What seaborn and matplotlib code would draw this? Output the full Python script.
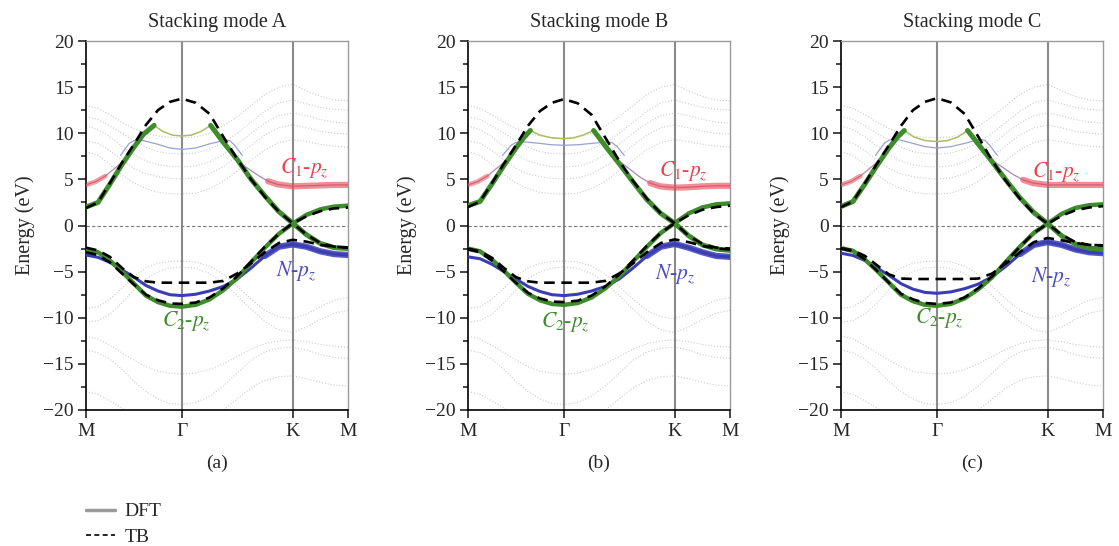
import matplotlib
matplotlib.use("Agg")
import matplotlib.pyplot as plt
from matplotlib.lines import Line2D
from matplotlib.ticker import MultipleLocator
import seaborn as sns

# k-path M -> Gamma -> K -> M (units of |Gamma M|)
k_ticks = [0.0, 1.0, 2.155, 2.732]
k_labels = ["M", "Γ", "K", "M"]
kgrid = [0.0, 0.125, 0.25, 0.375, 0.5, 0.625, 0.75, 0.875, 1.0, 1.144, 1.289,
         1.433, 1.577, 1.722, 1.866, 2.011, 2.155, 2.299, 2.443, 2.588, 2.732]

titles = ["Stacking mode A", "Stacking mode B", "Stacking mode C"]
letters = ["(a)", "(b)", "(c)"]

# ---- conduction band (green, C2-pz) split in three pieces ----
cb_left_k_a = [0.0, 0.125, 0.25, 0.375, 0.5, 0.6, 0.71]
cb_left_a = [2.0, 2.5, 4.5, 6.6, 8.5, 9.9, 10.85]
cb_mid_k_a = [0.71, 0.8, 0.9, 1.0, 1.1, 1.2, 1.3]
cb_mid_a = [10.85, 10.2, 9.8, 9.7, 9.8, 10.2, 10.85]
cb_right_k_a = [1.3, 1.433, 1.577, 1.722, 1.866, 2.011, 2.155, 2.299, 2.443, 2.588, 2.732]
cb_right_a = [10.85, 9.0, 7.15, 5.0, 3.2, 1.5, 0.25, -1.0, -1.95, -2.4, -2.5]

cb_left_k_b = [0.0, 0.125, 0.25, 0.375, 0.5, 0.58, 0.65]
cb_left_b = [2.15, 2.6, 4.5, 6.5, 8.4, 9.5, 10.3]
cb_mid_k_b = [0.65, 0.75, 0.875, 1.0, 1.1, 1.2, 1.31]
cb_mid_b = [10.3, 9.8, 9.5, 9.4, 9.5, 9.8, 10.3]
cb_right_k_b = [1.31, 1.433, 1.577, 1.722, 1.866, 2.011, 2.155, 2.299, 2.443, 2.588, 2.732]
cb_right_b = [10.3, 8.6, 6.7, 4.7, 2.8, 1.3, 0.25, -1.1, -2.1, -2.55, -2.7]

cb_left_k_c = [0.0, 0.125, 0.25, 0.375, 0.5, 0.59, 0.66]
cb_left_c = [2.05, 2.6, 4.5, 6.5, 8.4, 9.6, 10.3]
cb_mid_k_c = [0.66, 0.76, 0.88, 1.0, 1.11, 1.22, 1.32]
cb_mid_c = [10.3, 9.6, 9.2, 9.1, 9.2, 9.6, 10.3]
cb_right_k_c = [1.32, 1.433, 1.577, 1.722, 1.866, 2.011, 2.155, 2.299, 2.443, 2.588, 2.732]
cb_right_c = [10.3, 8.8, 6.9, 4.9, 3.0, 1.4, 0.2, -1.1, -2.0, -2.45, -2.6]

# ---- valence band (green, C2-pz) on kgrid ----
vb_green_a = [-2.6, -2.9, -3.8, -5.0, -6.3, -7.6, -8.3, -8.7, -8.8, -8.6, -8.0,
              -7.0, -5.7, -4.0, -2.4, -0.9, 0.2, 1.15, 1.75, 2.05, 2.15]
vb_green_b = [-2.5, -2.8, -3.7, -4.9, -6.2, -7.4, -8.1, -8.5, -8.6, -8.4, -7.8,
              -6.8, -5.5, -3.9, -2.3, -0.8, 0.25, 1.3, 1.95, 2.3, 2.4]
vb_green_c = [-2.45, -2.75, -3.7, -4.9, -6.2, -7.5, -8.2, -8.6, -8.7, -8.5, -7.9,
              -6.9, -5.6, -3.9, -2.3, -0.8, 0.2, 1.25, 1.9, 2.2, 2.3]

# ---- N-pz band (blue) on kgrid ----
n_blue_a = [-3.2, -3.45, -4.0, -4.8, -5.6, -6.5, -7.1, -7.5, -7.6, -7.45, -7.1,
            -6.6, -5.8, -4.6, -3.3, -2.3, -2.05, -2.3, -2.8, -3.1, -3.2]
n_blue_b = [-3.4, -3.6, -4.2, -5.0, -5.8, -6.6, -7.15, -7.5, -7.6, -7.45, -7.1,
            -6.6, -5.8, -4.6, -3.3, -2.3, -2.0, -2.4, -2.9, -3.3, -3.4]
n_blue_c = [-3.0, -3.25, -3.8, -4.6, -5.4, -6.3, -6.9, -7.25, -7.35, -7.2, -6.85,
            -6.35, -5.55, -4.4, -3.1, -2.1, -1.8, -2.1, -2.6, -2.9, -3.0]

# ---- TB bands (dashed) on kgrid ----
tb1_a = [1.9, 2.5, 4.6, 6.8, 8.8, 10.9, 12.5, 13.4, 13.75, 13.3, 12.1,
         9.6, 7.2, 5.0, 3.1, 1.5, 0.25, -1.0, -1.9, -2.3, -2.4]
tb1_b = [2.0, 2.6, 4.6, 6.7, 8.7, 10.8, 12.4, 13.3, 13.7, 13.25, 12.0,
         9.5, 7.0, 4.8, 2.9, 1.3, 0.25, -1.1, -2.0, -2.4, -2.5]
tb1_c = [2.0, 2.6, 4.6, 6.7, 8.7, 10.8, 12.5, 13.4, 13.8, 13.35, 12.1,
         9.6, 7.0, 4.8, 2.9, 1.3, 0.2, -1.0, -1.8, -2.1, -2.2]
tb2_a = [-2.4, -2.7, -3.4, -4.6, -5.6, -6.05, -6.2, -6.2, -6.2, -6.2, -6.2,
         -6.0, -5.2, -4.1, -2.9, -1.9, -1.55, -1.75, -2.1, -2.3, -2.4]
tb2_b = [-2.5, -2.8, -3.5, -4.6, -5.6, -6.05, -6.2, -6.2, -6.2, -6.2, -6.2,
         -6.0, -5.2, -4.1, -2.9, -1.9, -1.5, -1.8, -2.2, -2.5, -2.6]
tb2_c = [-2.45, -2.7, -3.3, -4.3, -5.3, -5.75, -5.8, -5.8, -5.8, -5.8, -5.8,
         -5.75, -5.2, -4.1, -2.9, -1.8, -1.35, -1.6, -1.9, -2.1, -2.15]
tb4_a = [-2.9, -3.2, -4.0, -5.2, -6.4, -7.5, -8.1, -8.45, -8.5, -8.35, -7.8,
         -6.8, -5.5, -3.9, -2.3, -0.9, 0.25, 1.0, 1.55, 1.85, 1.95]
tb4_b = [-2.6, -2.9, -3.8, -5.0, -6.2, -7.3, -7.9, -8.25, -8.3, -8.15, -7.6,
         -6.6, -5.3, -3.8, -2.2, -0.8, 0.25, 1.1, 1.7, 2.0, 2.15]
tb4_c = [-2.5, -2.8, -3.7, -4.9, -6.2, -7.4, -8.0, -8.4, -8.5, -8.35, -7.8,
         -6.8, -5.5, -3.9, -2.3, -0.8, 0.2, 1.05, 1.65, 1.95, 2.1]

# ---- C1-pz band (red) ----
red_left_k = [0.0, 0.1, 0.2, 0.3, 0.38]
red_left_a = [4.4, 4.75, 5.35, 6.2, 6.9]
red_left_b = [4.4, 4.75, 5.35, 6.2, 6.9]
red_left_c = [4.4, 4.75, 5.35, 6.2, 6.9]
red_right_k = [1.6, 1.7, 1.8, 1.9, 2.0, 2.155, 2.3, 2.45, 2.6, 2.732]
red_right_a = [6.8, 6.1, 5.4, 4.8, 4.45, 4.25, 4.3, 4.35, 4.4, 4.4]
red_right_b = [6.8, 6.0, 5.2, 4.6, 4.25, 4.1, 4.15, 4.25, 4.3, 4.3]
red_right_c = [6.9, 6.2, 5.5, 4.95, 4.6, 4.4, 4.4, 4.4, 4.4, 4.4]

# ---- thin upper band (light blue) ----
thin_k = [0.36, 0.45, 0.5, 0.6, 0.75, 0.875, 1.0, 1.144, 1.289, 1.433, 1.5, 1.55, 1.63]
thin_a = [7.6, 8.9, 9.2, 9.2, 8.8, 8.4, 8.25, 8.4, 8.85, 9.2, 9.2, 8.7, 7.6]
thin_b = [7.6, 8.7, 9.0, 9.05, 8.9, 8.75, 8.7, 8.75, 8.9, 9.05, 9.0, 8.6, 7.6]
thin_c = [7.6, 8.9, 9.25, 9.3, 8.9, 8.55, 8.4, 8.55, 8.9, 9.3, 9.25, 8.7, 7.6]

# ---- faint background DFT bands on kgrid ----
bg1 = [13.0, 12.7, 12.0, 11.2, 10.5, 10.0, 9.7, 9.55, 9.5, 9.6, 10.0, 10.8, 11.8, 13.0, 14.2, 15.0, 15.3, 14.6, 14.0, 13.6, 13.5]
bg2 = [11.8, 11.5, 10.8, 10.0, 9.2, 8.5, 8.0, 7.8, 7.75, 7.85, 8.3, 9.0, 10.0, 11.2, 12.4, 13.3, 13.6, 13.2, 12.8, 12.6, 12.5]
bg3 = [10.8, 10.4, 9.6, 8.6, 7.7, 7.0, 6.6, 6.4, 6.35, 6.45, 6.9, 7.7, 8.8, 10.0, 11.1, 11.9, 12.2, 11.9, 11.5, 11.2, 11.1]
bg4 = [9.2, 8.9, 8.1, 7.1, 6.2, 5.6, 5.3, 5.1, 5.05, 5.15, 5.6, 6.4, 7.5, 8.7, 9.8, 10.6, 10.9, 10.6, 10.2, 10.0, 9.9]
bg5 = [8.0, 7.6, 6.6, 5.5, 4.6, 4.0, 3.6, 3.45, 3.4, 3.5, 4.0, 4.8, 5.9, 7.1, 8.2, 9.0, 9.3, 9.1, 8.8, 8.6, 8.5]
bg6 = [-9.0, -8.8, -8.0, -6.8, -5.5, -4.6, -4.1, -3.9, -3.85, -3.95, -4.4, -5.3, -6.6, -8.0, -9.2, -9.9, -10.1, -9.6, -8.8, -8.1, -7.8]
bg7 = [-10.5, -10.3, -9.6, -8.4, -7.0, -5.8, -5.0, -4.6, -4.5, -4.65, -5.2, -6.2, -7.6, -9.1, -10.4, -11.3, -11.6, -11.0, -10.2, -9.5, -9.2]
bg8 = [-12.0, -12.3, -13.0, -13.8, -14.6, -15.3, -15.8, -16.0, -16.1, -16.0, -15.6, -15.0, -14.2, -13.4, -12.8, -12.5, -12.4, -12.6, -12.9, -13.1, -13.2]
bg9 = [-18.0, -18.3, -19.0, -19.8, -20.6, -21.2, -21.6, -21.8, -21.9, -21.7, -21.0, -20.0, -18.8, -17.6, -16.8, -16.4, -16.3, -16.6, -17.0, -17.3, -17.4]
bg10 = [-13.5, -13.8, -14.5, -15.6, -16.9, -18.0, -18.8, -19.3, -19.4, -19.2, -18.5, -17.4, -16.0, -14.6, -13.7, -13.3, -13.2, -13.5, -14.0, -14.3, -14.4]
bg_bands = [bg1, bg2, bg3, bg4, bg5, bg6, bg7, bg8, bg9, bg10]

# label positions (k, E) per panel: C1-pz, N-pz, C2-pz
lab_c1 = [(2.02, 6.2), (1.99, 5.95), (1.99, 5.8)]
lab_n = [(1.98, -4.9), (1.95, -5.3), (1.98, -5.6)]
lab_c2 = [(0.79, -10.4), (0.76, -10.45), (0.77, -10.05)]

panels = [
    dict(cbl=(cb_left_k_a, cb_left_a), cbm=(cb_mid_k_a, cb_mid_a), cbr=(cb_right_k_a, cb_right_a),
         vbg=vb_green_a, nb=n_blue_a, tb=[tb1_a, tb2_a, tb4_a],
         rl=red_left_a, rr=red_right_a, th=thin_a),
    dict(cbl=(cb_left_k_b, cb_left_b), cbm=(cb_mid_k_b, cb_mid_b), cbr=(cb_right_k_b, cb_right_b),
         vbg=vb_green_b, nb=n_blue_b, tb=[tb1_b, tb2_b, tb4_b],
         rl=red_left_b, rr=red_right_b, th=thin_b),
    dict(cbl=(cb_left_k_c, cb_left_c), cbm=(cb_mid_k_c, cb_mid_c), cbr=(cb_right_k_c, cb_right_c),
         vbg=vb_green_c, nb=n_blue_c, tb=[tb1_c, tb2_c, tb4_c],
         rl=red_left_c, rr=red_right_c, th=thin_c),
]

GREEN = "#3f8c2c"
BLUE = "#3a3db4"
RED = "#e8424c"

sns.set_theme(style="ticks")
plt.rcParams["font.family"] = ["Liberation Serif", "DejaVu Serif"]
plt.rcParams["mathtext.fontset"] = "stix"


def line(ax, x, y, **kw):
    sns.lineplot(x=x, y=y, ax=ax, sort=False, estimator=None, legend=False, **kw)


fig = plt.figure(figsize=(11.19, 5.46), dpi=100)
lefts = [86, 468, 841]
for i, p in enumerate(panels):
    ax = fig.add_axes([lefts[i] / 1119, 1 - 410 / 546, 262 / 1119, 369 / 546])

    for bg in bg_bands:
        line(ax, kgrid, bg, color="#cdcdcd", linewidth=0.8, linestyle=":", zorder=1)

    for kv in k_ticks[1:3]:
        ax.axvline(kv, color="#8a8a8a", linewidth=1.5, zorder=2)
    ax.axhline(0, color="#7a7a7a", linewidth=0.8, linestyle=(0, (3, 2)), zorder=2)

    # thin and red C1-pz bands
    line(ax, thin_k, p["th"], color="#9aa0d4", linewidth=0.9, zorder=3)
    line(ax, red_left_k, p["rl"], color="#b88aae", linewidth=0.9, zorder=3)
    line(ax, red_left_k[:3], p["rl"][:3], color=RED, linewidth=3.5, alpha=0.5, zorder=3)
    line(ax, red_right_k, p["rr"], color="#a888c0", linewidth=0.9, zorder=3)
    line(ax, red_right_k[3:], p["rr"][3:], color=RED, linewidth=4.5, alpha=0.6, zorder=3)

    # N-pz band (blue)
    line(ax, kgrid, p["nb"], color=BLUE, linewidth=2.2, zorder=4)
    line(ax, kgrid[14:], p["nb"][14:], color=BLUE, linewidth=4.5, alpha=0.85, zorder=4)

    # C2-pz bands (green)
    line(ax, *p["cbm"], color="#b0bc60", linewidth=1.1, zorder=4)
    line(ax, *p["cbl"], color=GREEN, linewidth=3.6, zorder=5)
    line(ax, *p["cbr"], color=GREEN, linewidth=3.6, zorder=5)
    line(ax, kgrid, p["vbg"], color=GREEN, linewidth=3.2, zorder=5)

    # TB bands
    for tb in p["tb"]:
        line(ax, kgrid, tb, color="black", linewidth=1.9, linestyle=(0, (4, 2.5)), zorder=6)

    ax.text(*lab_c1[i], "$C_1$-$p_z$", color=RED, fontsize=15.5, ha="left", va="center", zorder=7)
    ax.text(*lab_n[i], "$N$-$p_z$", color="#4a4ac4", fontsize=15.5, ha="left", va="center", zorder=7)
    ax.text(*lab_c2[i], "$C_2$-$p_z$", color=GREEN, fontsize=15.5, ha="left", va="center", zorder=7)

    ax.set_xlim(0, k_ticks[-1])
    ax.set_ylim(-20, 20)
    ax.set_xticks(k_ticks)
    ax.set_xticklabels(k_labels, fontsize=14)
    ax.yaxis.set_major_locator(MultipleLocator(5))
    ax.yaxis.set_minor_locator(MultipleLocator(2.5))
    ax.tick_params(axis="y", which="major", direction="out", length=6, width=1.2, labelsize=14, pad=3)
    ax.tick_params(axis="y", which="minor", direction="out", length=3.5, width=1.2)
    ax.tick_params(axis="x", direction="out", length=6, width=1.2, pad=3)
    ax.set_ylabel("Energy (eV)", fontsize=14.5, labelpad=6)
    ax.set_title(titles[i], fontsize=14.5, pad=10)
    for s in ["left", "bottom"]:
        ax.spines[s].set_color("black")
        ax.spines[s].set_linewidth(1.2)
    for s in ["top", "right"]:
        ax.spines[s].set_color("#9a9a9a")
        ax.spines[s].set_linewidth(1.0)
    fig.text((lefts[i] + 131) / 1119, 1 - 463 / 546, letters[i], fontsize=14, ha="center", va="center")

handles = [Line2D([], [], color="#9a9a9a", linewidth=2.5),
           Line2D([], [], color="black", linewidth=1.2, linestyle=(0, (3, 2)))]
fig.legend(handles, ["DFT", "TB"], loc="upper left", bbox_to_anchor=(80 / 1119, 1 - 497 / 546),
           frameon=False, fontsize=14, handlelength=1.5, handletextpad=0.5, labelspacing=0.4,
           borderaxespad=0, borderpad=0.3)

fig.savefig("out.png", dpi=100)
